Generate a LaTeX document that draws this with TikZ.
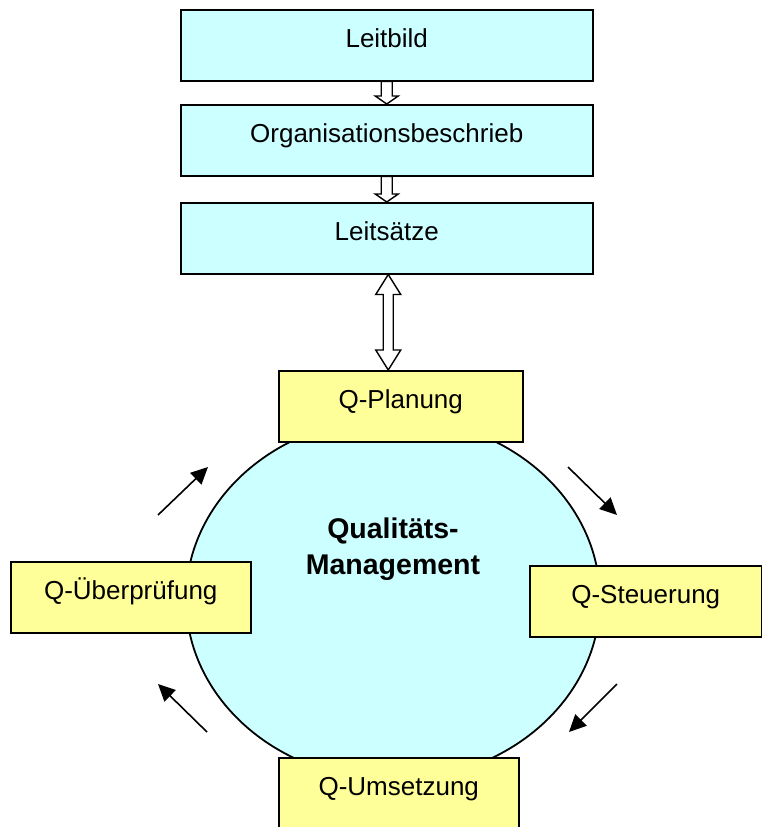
\documentclass[tikz,border=0pt]{standalone}
\usepackage{fontspec}
\setmainfont{Liberation Sans}
\usetikzlibrary{shapes.geometric,arrows.meta,calc}
\definecolor{boxcyan}{RGB}{204,255,255}
\definecolor{boxyellow}{RGB}{255,255,153}
\begin{document}
\begin{tikzpicture}[x=1pt,y=-1pt,
  txt/.style={font=\fontsize{26}{31}\selectfont},
  basebox/.style={draw=black, line width=1.5pt, rectangle, inner sep=0pt, anchor=north west,
    text height=19pt, text depth=15pt, txt, minimum height=71pt},
  cbox/.style={basebox, fill=boxcyan, minimum width=412pt},
  ybox/.style={basebox, fill=boxyellow},
  hollow/.style={draw=black, line width=1.4pt, fill=white, line join=miter},
  flow/.style={line width=1.6pt, -{Triangle[length=17pt,width=16pt]}}]
\useasboundingbox (0,0) rectangle (762,827);
\clip (0,0) rectangle (762,827);
\fill[white] (0,0) rectangle (762,827);

% top boxes
\node[cbox] (lb) at (180,9) {Leitbild};
\node[cbox] (ob) at (180,104) {Organisationsbeschrieb};
\node[cbox] (ls) at (180,202) {Leits\"atze};

% ellipse
\node[ellipse, draw=black, line width=1.8pt, fill=boxcyan, minimum width=414pt, minimum height=362pt, inner sep=0pt] (qm) at (393,599) {};
\node[font=\bfseries\fontsize{28.5}{36}\selectfont, align=center] (qmt) at (393,549) {Qualit\"ats-\\Management};

% yellow boxes
\node[ybox, minimum width=244pt] (qp) at (278,370) {Q-Planung};
\node[ybox, minimum width=232pt] (qs) at (529,565) {Q-Steuerung};
\node[ybox, minimum width=240pt] (qu) at (10,561) {Q-\"Uberpr\"ufung};
\node[ybox, minimum width=240pt] (qx) at (278,757) {Q-Umsetzung};

% hollow arrows between top boxes
\draw[hollow] ($(lb.south)+(-5.5,0)$) -- ($(ob.north)+(-5.5,-8)$) -- ($(ob.north)+(-11.5,-8)$) -- (ob.north)
  -- ($(ob.north)+(11.5,-8)$) -- ($(ob.north)+(5.5,-8)$) -- ($(lb.south)+(5.5,0)$) -- cycle;
\draw[hollow] ($(ob.south)+(-5.5,0)$) -- ($(ls.north)+(-5.5,-8)$) -- ($(ls.north)+(-11.5,-8)$) -- (ls.north)
  -- ($(ls.north)+(11.5,-8)$) -- ($(ls.north)+(5.5,-8)$) -- ($(ob.south)+(5.5,0)$) -- cycle;

% double hollow arrow
\coordinate (da) at ($(ls.south)+(1.5,0)$);
\coordinate (db) at ($(ls.south |- qp.north)+(1.5,0)$);
\draw[hollow] (da) -- ($(da)+(12.5,20)$) -- ($(da)+(5,20)$) -- ($(db)+(5,-20)$) -- ($(db)+(12.5,-20)$) -- (db)
  -- ($(db)+(-12.5,-20)$) -- ($(db)+(-5,-20)$) -- ($(da)+(-5,20)$) -- ($(da)+(-12.5,20)$) -- cycle;

% cycle arrows
\coordinate (a1s) at (158,515); \coordinate (a1e) at (208,467);
\coordinate (a2s) at (568,467); \coordinate (a2e) at (617,515);
\coordinate (a3s) at (617,684); \coordinate (a3e) at (569,732);
\coordinate (a4s) at (207,732); \coordinate (a4e) at (158,684);
\draw[flow] (a1s) -- (a1e);
\draw[flow] (a2s) -- (a2e);
\draw[flow] (a3s) -- (a3e);
\draw[flow] (a4s) -- (a4e);
\end{tikzpicture}
\end{document}
